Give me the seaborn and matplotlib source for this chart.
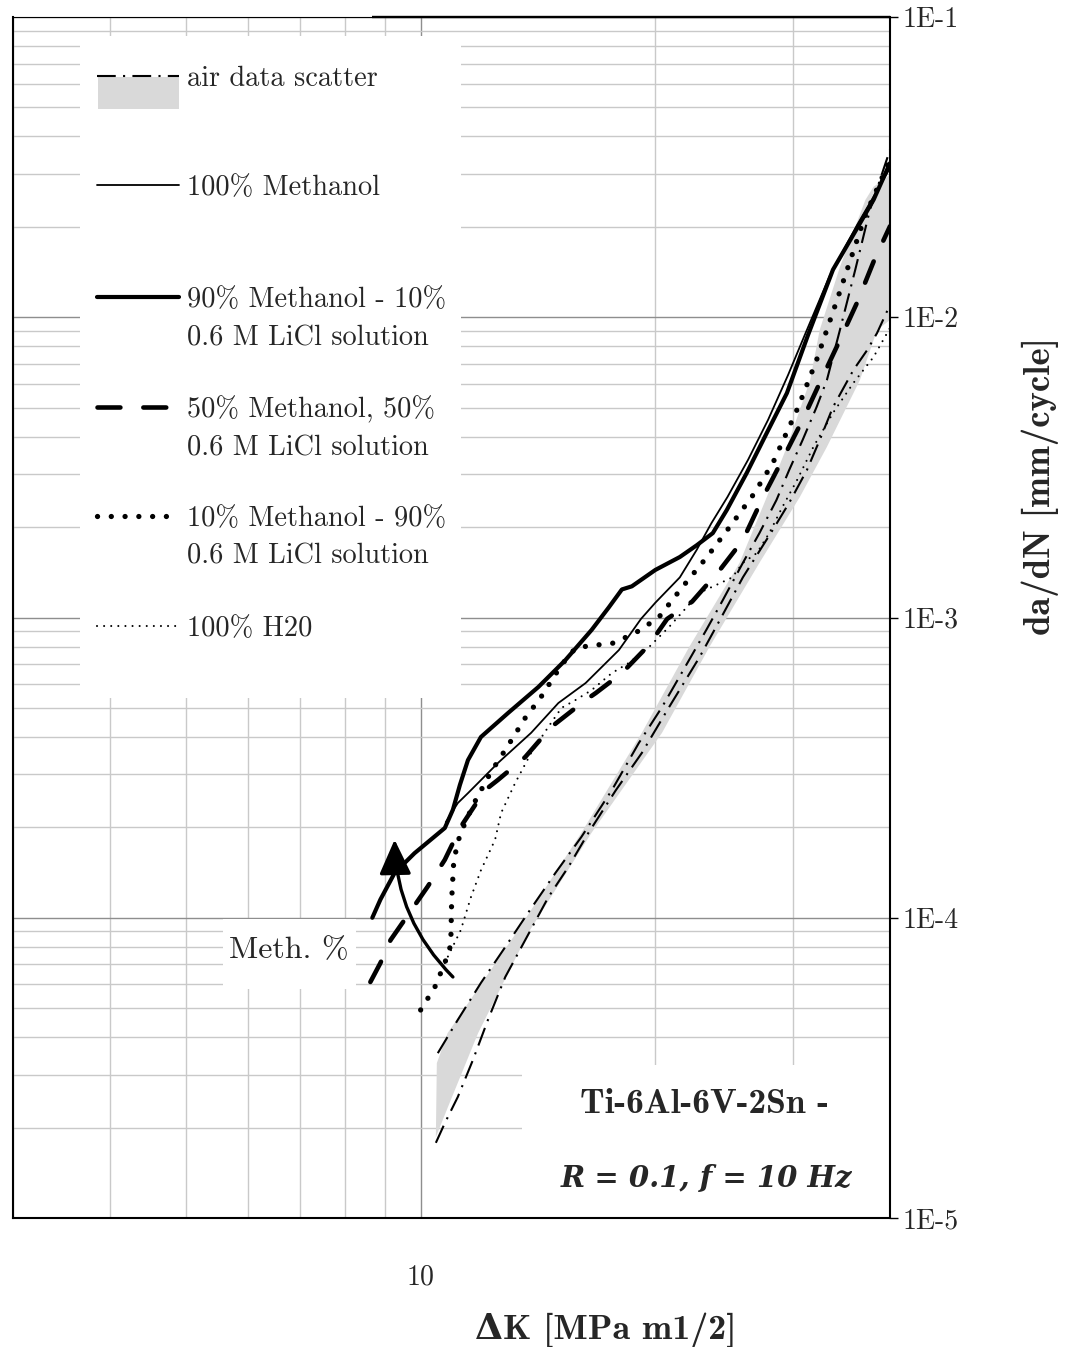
import matplotlib
matplotlib.use("Agg")
import matplotlib.pyplot as plt
import numpy as np
import seaborn as sns
from matplotlib.lines import Line2D
from matplotlib.patches import Rectangle, FancyArrowPatch
from matplotlib.ticker import FixedLocator, FixedFormatter, NullFormatter, LogLocator

# ---------------------------------------------------------------------------
# Fatigue crack growth, Ti-6Al-6V-2Sn: delta K [MPa m^1/2] vs da/dN [mm/cycle]
# ---------------------------------------------------------------------------

# air reference: two bounding curves and the scatter band between them
air_upper_dk = [10.52, 11.16, 11.95, 12.84, 13.74, 14.89, 16.08, 17.59, 19.05, 20.4,
                22.1, 23.25, 24.4, 25.9, 27.2, 28.6, 29.7, 30.9, 32.2, 33.2, 34.5,
                36.1, 37.7, 40.0]
air_upper_rate = [3.54e-5, 4.57e-5, 6.07e-5, 7.99e-5, 1.04e-4, 1.41e-4, 1.86e-4, 2.66e-4,
                  3.82e-4, 5.03e-4, 7.22e-4, 9.09e-4, 1.14e-3, 1.52e-3, 1.91e-3, 2.46e-3,
                  3.10e-3, 3.90e-3, 5.02e-3, 6.18e-3, 9.07e-3, 1.44e-2, 2.28e-2, 3.61e-2]

air_lower_dk = [10.46, 10.74, 11.16, 11.67, 12.2, 12.84, 13.62, 14.58, 15.48, 16.42, 17.8,
                19.22, 20.83, 22.8, 24.2, 25.9, 28.3, 29.7, 31.3, 32.5, 33.8, 35.9, 37.4,
                38.5, 40.0]
air_lower_rate = [1.78e-5, 2.07e-5, 2.53e-5, 3.36e-5, 4.57e-5, 6.35e-5, 8.43e-5, 1.17e-4,
                  1.48e-4, 1.92e-4, 2.66e-4, 3.54e-4, 5.03e-4, 7.39e-4, 9.81e-4, 1.36e-3,
                  1.96e-3, 2.41e-3, 3.10e-3, 3.90e-3, 5.02e-3, 6.67e-3, 7.78e-3, 8.86e-3,
                  1.10e-2]

band_fast_dk = [10.49, 10.83, 13.26, 16.08, 19.22, 22.1, 25.65, 27.8, 29.5, 31.6, 32.5,
                34.5, 37.2, 38.1, 40.0]
band_fast_rate = [3.28e-5, 4.13e-5, 8.90e-5, 1.92e-4, 4.13e-4, 7.97e-4, 1.52e-3, 2.52e-3,
                  3.70e-3, 6.18e-3, 9.07e-3, 1.47e-2, 2.46e-2, 2.72e-2, 2.98e-2]
band_slow_dk = [10.46, 10.93, 11.85, 13.74, 16.57, 20.4, 23.46, 27.2, 30.65, 33.2, 36.6,
                38.5, 40.0]
band_slow_rate = [1.86e-5, 2.47e-5, 4.13e-5, 8.90e-5, 1.92e-4, 4.13e-4, 7.97e-4, 1.52e-3,
                  2.52e-3, 3.70e-3, 6.18e-3, 9.07e-3, 9.79e-3]

# environments
meoh100_dk = [10.77, 11.16, 11.5, 12.57, 13.86, 15.02, 16.28, 17.96, 19.17, 20.0, 21.5,
              22.6, 23.6, 24.75, 26.3, 27.9, 29.6, 31.1, 33.5, 36.3, 38.1, 40.0]
meoh100_rate = [2.08e-4, 2.41e-4, 2.60e-4, 3.28e-4, 4.13e-4, 5.19e-4, 6.05e-4, 7.79e-4,
                9.89e-4, 1.12e-3, 1.36e-3, 1.68e-3, 2.06e-3, 2.52e-3, 3.35e-3, 4.55e-3,
                6.42e-3, 8.73e-3, 1.38e-2, 2.03e-2, 2.52e-2, 3.14e-2]

meoh90_dk = [8.67, 8.88, 9.26, 9.82, 10.74, 11.0, 11.23, 11.5, 11.95, 12.95, 14.16, 15.34,
             16.57, 17.43, 18.12, 18.66, 20.0, 21.5, 22.6, 23.7, 24.7, 26.2, 27.8, 29.5,
             31.4, 33.8, 36.3, 38.1, 40.0]
meoh90_rate = [1.00e-4, 1.15e-4, 1.41e-4, 1.64e-4, 1.99e-4, 2.29e-4, 2.77e-4, 3.35e-4,
               4.00e-4, 4.81e-4, 5.87e-4, 7.22e-4, 9.09e-4, 1.08e-3, 1.24e-3, 1.27e-3,
               1.44e-3, 1.59e-3, 1.74e-3, 1.91e-3, 2.28e-3, 3.03e-3, 4.12e-3, 5.59e-3,
               8.73e-3, 1.44e-2, 1.98e-2, 2.46e-2, 3.26e-2]

meoh50_dk = [8.62, 8.88, 9.15, 10.21, 10.74, 11.26, 12.09, 12.57, 13.62, 14.71, 16.28,
             16.77, 18.12, 19.63, 20.71, 22.3, 24.2, 25.9, 27.5, 29.1, 30.9, 32.5, 34.5,
             36.3, 38.1, 40.0]
meoh50_rate = [6.11e-5, 7.07e-5, 8.43e-5, 1.27e-4, 1.56e-4, 2.01e-4, 2.66e-4, 2.88e-4,
               3.43e-4, 4.32e-4, 5.31e-4, 5.60e-4, 6.53e-4, 8.10e-4, 9.89e-4, 1.13e-3,
               1.44e-3, 1.81e-3, 2.52e-3, 3.35e-3, 4.55e-3, 6.04e-3, 8.40e-3, 1.12e-2,
               1.53e-2, 2.01e-2]

meoh10_dk = [10.0, 10.43, 10.74, 10.93, 10.96, 11.03, 11.23, 11.67, 12.31, 12.84, 13.62,
             14.24, 15.16, 15.8, 16.42, 17.69, 18.94, 20.2, 21.65, 23.25, 24.9, 26.7, 28.3,
             30.5, 32.2, 34.2, 37.2, 40.0]
meoh10_rate = [4.93e-5, 5.88e-5, 7.07e-5, 8.11e-5, 1.15e-4, 1.56e-4, 1.89e-4, 2.37e-4,
               3.06e-4, 3.62e-4, 4.63e-4, 5.39e-4, 6.95e-4, 7.91e-4, 8.04e-4, 8.22e-4,
               8.95e-4, 1.00e-3, 1.26e-3, 1.58e-3, 2.00e-3, 2.56e-3, 3.27e-3, 5.02e-3,
               7.20e-3, 1.14e-2, 2.19e-2, 3.34e-2]

h2o_dk = [10.74, 11.26, 11.6, 11.95, 12.46, 12.68, 13.22, 13.86, 14.58, 15.16, 15.8, 16.57,
          17.59, 18.5, 19.63, 20.83, 22.8, 24.2, 25.1, 25.9, 27.0, 28.0, 29.1, 30.4, 31.9,
          33.8, 35.9, 38.1, 40.0]
h2o_rate = [7.07e-5, 9.10e-5, 1.17e-4, 1.44e-4, 1.82e-4, 2.23e-4, 2.81e-4, 3.54e-4,
            4.32e-4, 5.00e-4, 5.31e-4, 5.73e-4, 6.53e-4, 7.06e-4, 7.97e-4, 9.30e-4,
            1.21e-3, 1.30e-3, 1.36e-3, 1.52e-3, 1.64e-3, 1.91e-3, 2.33e-3, 2.87e-3,
            3.70e-3, 4.80e-3, 6.04e-3, 7.37e-3, 9.21e-3]

# trend arrow (increasing methanol content)
arrow_tail = (11.0, 6.35e-5)
arrow_head = (9.26, 1.82e-4)

# axes ticks and labels
x_limits = (3, 40)
y_limits = (1e-5, 1e-1)
x_major_ticks = [10]
x_tick_labels = ["10"]
x_minor_ticks = [3, 4, 5, 6, 7, 8, 9, 20, 30, 40]
y_ticks = [1e-5, 1e-4, 1e-3, 1e-2, 1e-1]
y_tick_labels = ["1E-5", "1E-4", "1E-3", "1E-2", "1E-1"]

legend_labels = [
    ["air data scatter"],
    ["100% Methanol"],
    ["90% Methanol - 10%", "0.6 M LiCl solution"],
    ["50% Methanol, 50%", "0.6 M LiCl solution"],
    ["10% Methanol - 90%", "0.6 M LiCl solution"],
    ["100% H20"],
]

# ---------------------------------------------------------------------------
sns.set_style("white")
plt.rcParams["mathtext.fontset"] = "cm"
plt.rcParams["font.family"] = ["cmr10", "DejaVu Serif"]
plt.rcParams["axes.formatter.use_mathtext"] = True

W, H = 1072, 1347
fig = plt.figure(figsize=(W / 100, H / 100), dpi=100)
fig.patch.set_facecolor("white")

# frame of the plotting area on the canvas, in pixels
AX_L, AX_R, AX_T, AX_B = 13, 890, 17, 1218
ax = fig.add_axes([AX_L / W, 1 - AX_B / H, (AX_R - AX_L) / W, (AX_B - AX_T) / H])


def ax_x(px):
    return (px - AX_L) / (AX_R - AX_L)


def ax_y(py):
    return 1 - (py - AX_T) / (AX_B - AX_T)


ax.set_xscale("log")
ax.set_yscale("log")
ax.set_xlim(*x_limits)
ax.set_ylim(*y_limits)

ax.xaxis.set_major_locator(FixedLocator(x_major_ticks))
ax.xaxis.set_major_formatter(FixedFormatter(x_tick_labels))
ax.xaxis.set_minor_locator(FixedLocator(x_minor_ticks))
ax.xaxis.set_minor_formatter(NullFormatter())
ax.yaxis.set_major_locator(FixedLocator(y_ticks))
ax.yaxis.set_major_formatter(FixedFormatter(y_tick_labels))
ax.yaxis.set_minor_locator(LogLocator(base=10, subs=np.arange(2, 10)))
ax.yaxis.set_minor_formatter(NullFormatter())
ax.yaxis.tick_right()

ax.tick_params(axis="x", which="both", direction="out", length=7, width=1.0,
               color="black", pad=26, labelsize=20)
ax.tick_params(axis="y", which="major", direction="out", length=6, width=1.0,
               color="black", pad=3, labelsize=20, right=True, left=False)
ax.tick_params(axis="y", which="minor", length=0, right=False, left=False)

ax.set_axisbelow(True)
ax.grid(True, which="major", color="#8e8e8e", linewidth=1.0)
ax.grid(True, which="minor", color="#c9c9c9", linewidth=1.0)

for side in ["left", "bottom", "right"]:
    ax.spines[side].set_visible(True)
    ax.spines[side].set_color("black")
    ax.spines[side].set_linewidth(1.5)
ax.spines["top"].set_visible(True)
ax.spines["top"].set_color("black")
ax.spines["top"].set_linewidth(0.8)
ax.plot([ax_x(372), 1], [1, 1], transform=ax.transAxes, color="black", lw=1.7,
        clip_on=False, solid_capstyle="butt", zorder=5)

# white panels behind the legend and annotations
for (x0, y0, x1, y1) in [(80, 36, 461, 698), (223, 919, 356, 989), (522, 1065, 890, 1218)]:
    ax.add_patch(Rectangle((ax_x(x0), ax_y(y1)), ax_x(x1) - ax_x(x0), ax_y(y0) - ax_y(y1),
                           transform=ax.transAxes, facecolor="white", edgecolor="none",
                           zorder=1))

# line styles
styles = {
    "air": dict(color="black", linewidth=1.5, linestyle=(0, (9, 3.5, 1, 3.5)),
                dash_capstyle="butt"),
    "meoh100": dict(color="black", linewidth=1.3, linestyle="-"),
    "meoh90": dict(color="black", linewidth=3.0, linestyle="-", solid_capstyle="round"),
    "meoh50": dict(color="black", linewidth=3.3, linestyle=(0, (5, 5)),
                   dash_capstyle="round"),
    "meoh10": dict(color="black", linewidth=3.8, linestyle=(0, (0.01, 2.6)),
                   dash_capstyle="round"),
    "h2o": dict(color="black", linewidth=1.5, linestyle=(0, (0.01, 3.4)),
                dash_capstyle="round"),
}

# air scatter band
ax.fill(np.r_[band_fast_dk, band_slow_dk[::-1]], np.r_[band_fast_rate, band_slow_rate[::-1]],
        color="#d9d9d9", linewidth=0, zorder=1.5)


def draw(dk, rate, key):
    sns.lineplot(x=dk, y=rate, ax=ax, sort=False, estimator=None, errorbar=None,
                 zorder=2.5, **styles[key])


draw(air_upper_dk, air_upper_rate, "air")
draw(air_lower_dk, air_lower_rate, "air")
draw(h2o_dk, h2o_rate, "h2o")
draw(meoh10_dk, meoh10_rate, "meoh10")
draw(meoh50_dk, meoh50_rate, "meoh50")
draw(meoh100_dk, meoh100_rate, "meoh100")
draw(meoh90_dk, meoh90_rate, "meoh90")

arrow = FancyArrowPatch(arrow_tail, arrow_head, transform=ax.transData,
                        connectionstyle="arc3,rad=-0.2",
                        arrowstyle="-|>,head_length=0.65,head_width=0.3",
                        mutation_scale=33, lw=2.4, color="black",
                        shrinkA=0, shrinkB=0, zorder=4)
ax.add_patch(arrow)

ax.text(ax_x(289), ax_y(958), "Meth. %", transform=ax.transAxes, ha="center",
        va="baseline", fontsize=23, zorder=4)

# legend
handle_keys = ["air", "meoh100", "meoh90", "meoh50", "meoh10", "h2o"]
handle_rows = [76, 185, 297, 407, 516, 626]
LEG_X0, LEG_X1, LEG_TEXT = 97, 179, 187
for key, row, lines in zip(handle_keys, handle_rows, legend_labels):
    if key == "air":
        ax.add_patch(Rectangle((ax_x(98), ax_y(109)), ax_x(179) - ax_x(98),
                               ax_y(77) - ax_y(109), transform=ax.transAxes,
                               facecolor="#d9d9d9", edgecolor="none", zorder=3))
    ax.add_line(Line2D([ax_x(LEG_X0), ax_x(LEG_X1)], [ax_y(row), ax_y(row)],
                       transform=ax.transAxes, zorder=3.5, **styles[key]))
    for i, txt in enumerate(lines):
        ax.text(ax_x(LEG_TEXT), ax_y(row + 10 + 38 * i), txt, transform=ax.transAxes,
                ha="left", va="baseline", fontsize=20.4, zorder=4)

# material / loading note
ax.text(ax_x(705), ax_y(1113), "Ti-6Al-6V-2Sn -", transform=ax.transAxes, ha="center",
        va="baseline", fontsize=25.5, family=["cmb10", "DejaVu Serif"], zorder=4)
ax.text(ax_x(706), ax_y(1187), "R = 0.1, f = 10 Hz", transform=ax.transAxes,
        ha="center", va="baseline", fontsize=21, family="DejaVu Serif", style="italic",
        weight="bold", zorder=4)

# axis titles
fig.text(1040 / W, 1 - 486 / H, "da/dN [mm/cycle]", rotation=90, ha="center",
         va="center", fontsize=26.5, family=["cmb10", "DejaVu Serif"])
fig.text(606 / W, 1 - 1330 / H, "ΔK [MPa m1/2]", ha="center", va="center",
         fontsize=26, family=["cmb10", "DejaVu Serif"], weight="bold")

fig.savefig("out.png", dpi=100, facecolor="white")
